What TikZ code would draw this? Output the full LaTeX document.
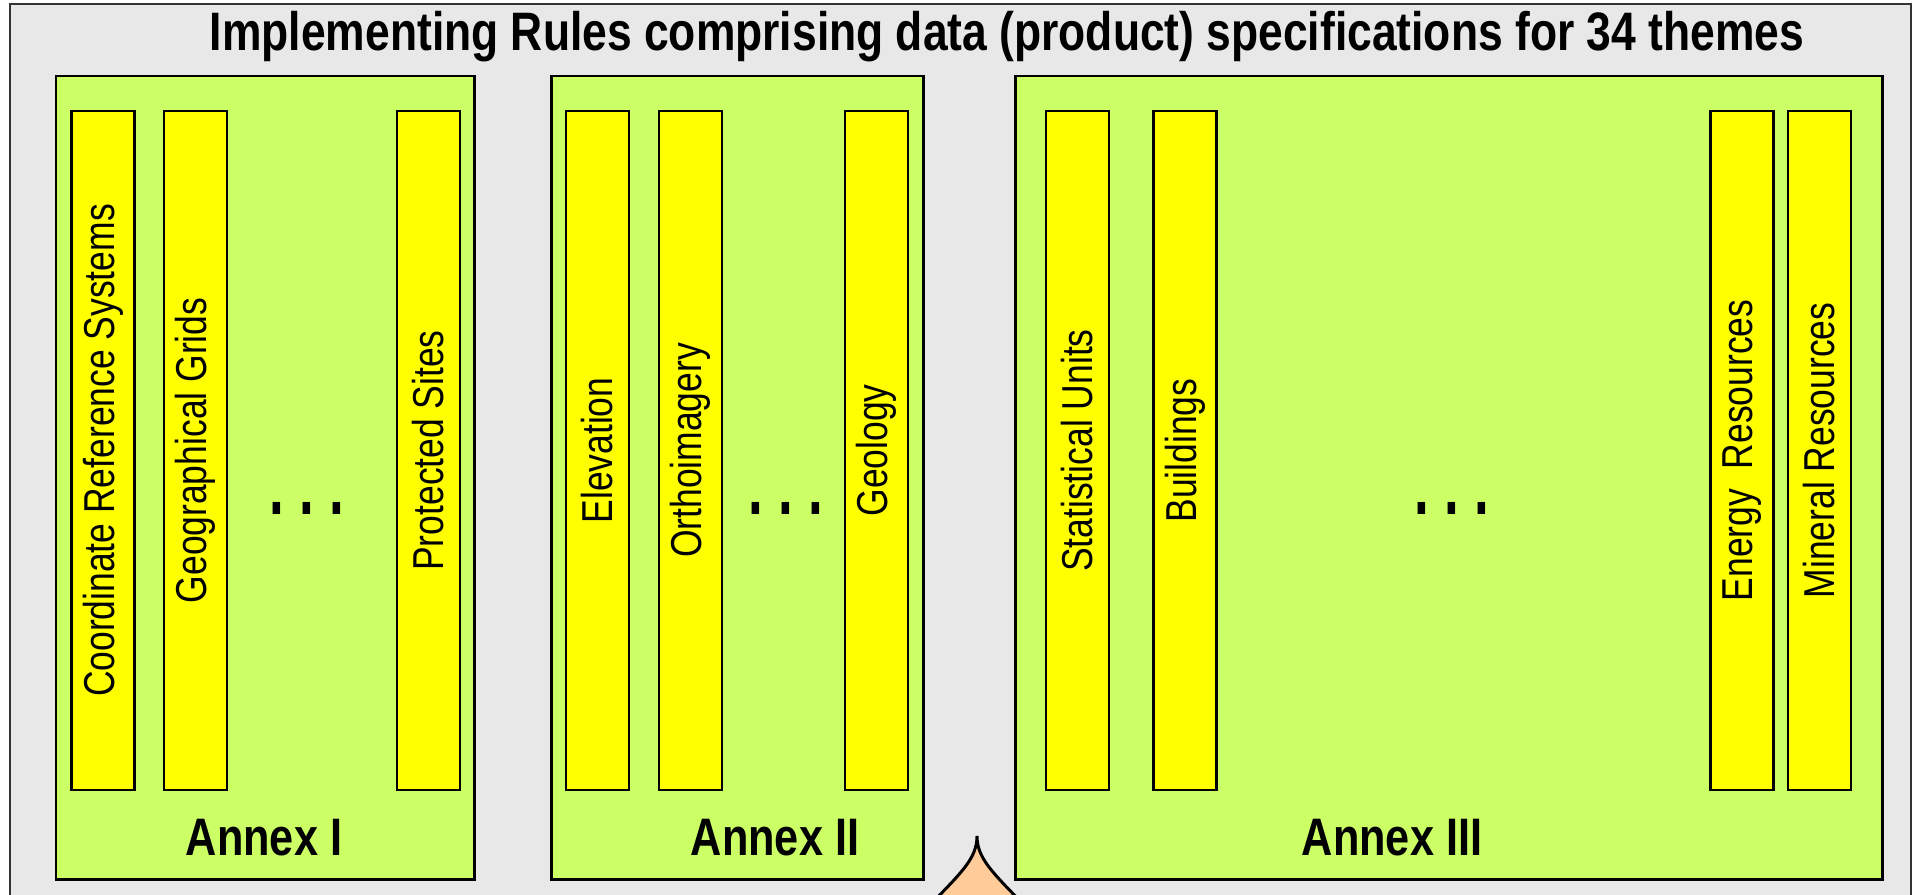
\documentclass[tikz,border=0pt]{standalone}
\usepackage{fontspec}
\setmainfont{Liberation Sans}[FakeStretch=0.82]
\usepackage{tikz}

\definecolor{panelgray}{HTML}{E8E8E8}
\definecolor{annexgreen}{HTML}{CCFF66}
\definecolor{themeyellow}{HTML}{FFFF00}
\definecolor{peach}{HTML}{FFCC99}

\newcommand{\tallpt}{\scalebox{0.8}[1]{.}}

\tikzset{
	annexbox/.style={draw=black,fill=annexgreen,line width=0.85pt},
	themebar/.style={draw=black,fill=themeyellow,line width=0.65pt,rotate=90,
		minimum width=6.79cm,minimum height=0.63cm,inner sep=0pt,
		font=\fontsize{12.3}{14}\selectfont},
	annexlabel/.style={anchor=base,font=\fontsize{15}{18}\selectfont\bfseries},
	moredots/.style={anchor=base,inner sep=0pt,font=\fontsize{23}{28}\selectfont\bfseries}
}

\begin{document}
\begin{tikzpicture}[x=0.01cm,y=-0.01cm]
			\useasboundingbox (0,0) rectangle (1913,894);
			\clip (0,0) rectangle (1913,894);
			\pgfmathsetmacro{\bartop}{111}
			\pgfmathsetmacro{\barbot}{790}
			\pgfmathsetmacro{\barmid}{(\bartop+\barbot)/2}
			\draw[draw=black!80,fill=panelgray,line width=0.6pt] (10,4) rectangle (1911,940);
			\node[anchor=base,font=\fontsize{15.4}{18}\selectfont\bfseries] (title) at (1007,51) {Implementing Rules comprising data (product) specifications for 34 themes};
			\draw[annexbox] (56,76) rectangle (474,879);
			\draw[annexbox] (551,76) rectangle (923,879);
			\draw[annexbox] (1015,76) rectangle (1882,879);
			\foreach \x/\nm/\txt in {103/crs/{Coordinate Reference Systems},195.5/grids/{Geographical Grids},428.5/sites/{Protected Sites},
				597.5/elev/{Elevation},690.5/ortho/{Orthoimagery},876.5/geol/{Geology},
				1077.5/stat/{Statistical Units},1185/build/{Buildings},1742/energy/{Energy\ \ Resources},1819.5/mineral/{Mineral Resources}}
				\node[themebar] (\nm) at (\x,\barmid) {\txt};
			\node[moredots] (dotsI) at (307,514) {\tallpt\hspace{4.4pt}\tallpt\hspace{4.4pt}\tallpt};
			\node[moredots] (dotsII) at (786,514) {\tallpt\hspace{4.4pt}\tallpt\hspace{4.4pt}\tallpt};
			\node[moredots] (dotsIII) at (1452,514) {\tallpt\hspace{4.4pt}\tallpt\hspace{4.4pt}\tallpt};
			\node[annexlabel] (annexI) at (264,855) {Annex I};
			\node[annexlabel] (annexII) at (775,855) {Annex II};
			\node[annexlabel] (annexIII) at (1392,855) {Annex III};
			\draw[black,fill=peach,line width=0.85pt] (930,905) .. controls (962,872) and (977,858) .. (977,836) .. controls (977,858) and (992,872) .. (1024,905);
		\end{tikzpicture}
\end{document}
